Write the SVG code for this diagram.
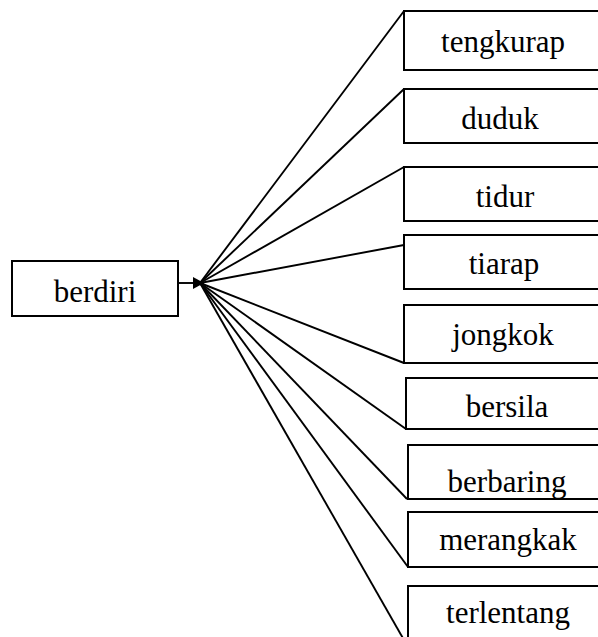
<svg xmlns="http://www.w3.org/2000/svg" width="598" height="637" viewBox="0 0 598 637">
<style>
.box{fill:#fff;stroke:#000;stroke-width:2}
.lbl{font-family:"Liberation Serif","Times New Roman","DejaVu Serif",serif;font-size:31px;fill:#000;text-anchor:middle}
.ln{stroke:#000;stroke-width:1.9;fill:none}
</style>
<defs>
<marker id="ah" viewBox="0 0 11 12" refX="11" refY="6" markerWidth="11" markerHeight="12" markerUnits="userSpaceOnUse" orient="auto">
<path d="M0,0 L11,6 L0,12 Z" fill="#000"/>
</marker>
<clipPath id="cb"><rect x="408" y="445" width="200" height="53"/></clipPath>
</defs>
<g id="connectors">
<line class="ln" x1="178" y1="283" x2="204" y2="283" marker-end="url(#ah)"/>
<line class="ln" x1="200" y1="283" x2="404" y2="11"/>
<line class="ln" x1="200" y1="283" x2="404" y2="89"/>
<line class="ln" x1="200" y1="283" x2="404" y2="167"/>
<line class="ln" x1="200" y1="283" x2="404" y2="245"/>
<line class="ln" x1="200" y1="283" x2="404" y2="363"/>
<line class="ln" x1="200" y1="283" x2="406" y2="429"/>
<line class="ln" x1="200" y1="283" x2="407" y2="499"/>
<line class="ln" x1="200" y1="283" x2="408" y2="567"/>
<line class="ln" x1="200" y1="283" x2="404" y2="640"/>
</g>
<g id="berdiri"><rect class="box" x="12" y="261" width="166" height="55"/><text class="lbl" x="95" y="302">berdiri</text></g>
<g id="tengkurap"><rect class="box" x="404" y="11" width="200" height="59"/><text class="lbl" x="503" y="52">tengkurap</text></g>
<g id="duduk"><rect class="box" x="404" y="89" width="200" height="54"/><text class="lbl" x="500" y="129">duduk</text></g>
<g id="tidur"><rect class="box" x="404" y="167" width="200" height="54"/><text class="lbl" x="505" y="207">tidur</text></g>
<g id="tiarap"><rect class="box" x="404" y="235" width="200" height="54"/><text class="lbl" x="504" y="274">tiarap</text></g>
<g id="jongkok"><rect class="box" x="404" y="305" width="200" height="58"/><text class="lbl" x="503" y="345">jongkok</text></g>
<g id="bersila"><rect class="box" x="406" y="378" width="200" height="51"/><text class="lbl" x="507" y="417">bersila</text></g>
<g id="berbaring"><rect class="box" x="408" y="445" width="200" height="54"/><text class="lbl" x="507" y="492" clip-path="url(#cb)">berbaring</text></g>
<g id="merangkak"><rect class="box" x="408" y="512" width="200" height="55"/><text class="lbl" x="508" y="550">merangkak</text></g>
<g id="terlentang"><rect class="box" x="408" y="586" width="200" height="60"/><text class="lbl" x="508" y="623">terlentang</text></g>
</svg>
